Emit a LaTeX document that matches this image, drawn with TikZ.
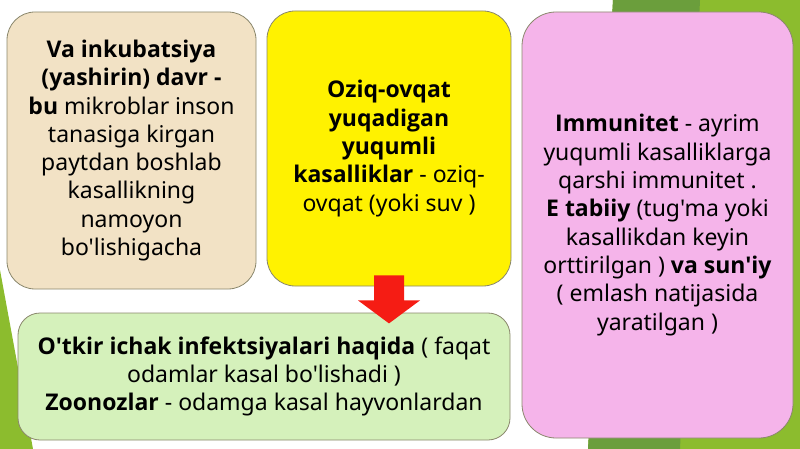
\documentclass[tikz,border=0pt]{standalone}
\usepackage{fontspec}
\setmainfont{Noto Sans}[Ligatures=TeXOff,BoldFont={Open Sans Bold}]
\usetikzlibrary{calc}
\definecolor{tanfill}{HTML}{F2E2C5}
\definecolor{pinkfill}{HTML}{F5B4EA}
\definecolor{mintfill}{HTML}{D5F1BB}
\definecolor{limegreen}{HTML}{8CBC2E}
\definecolor{darkgreen}{HTML}{6B9E3C}
\definecolor{arrowred}{HTML}{F51C14}
\definecolor{boxline}{HTML}{8A876C}
\begin{document}
\begin{tikzpicture}[x=1pt,y=-1pt,
    box/.style={draw=boxline,line width=0.8pt,rounded corners=28pt,align=center,inner sep=0pt,
      font=\fontsize{23}{28.3}\selectfont}]
  \useasboundingbox (0,0) rectangle (800,449);
  % background facets
  \fill[limegreen] (613,0) -- (800,0) -- (800,449) -- (588,449) -- cycle;
  \fill[darkgreen] (613,0) -- (700,0) -- (680,449) -- (588,449) -- cycle;
  \fill[limegreen] (0,270) -- (33,449) -- (0,449) -- cycle;
  % boxes
  \node[box,fill=tanfill,minimum width=249pt,minimum height=277pt] (incub) at (131.5,150.5)
    {\textbf{Va inkubatsiya}\\ \textbf{(yashirin) davr -}\\ \textbf{bu} mikroblar inson\\ tanasiga kirgan\\
     paytdan boshlab\\ kasallikning\\ namoyon\\ bo'lishigacha};
  \node[box,fill=yellow,minimum width=244pt,minimum height=275pt] (food) at (389,148.5)
    {\textbf{Oziq-ovqat}\\ \textbf{yuqadigan}\\ \textbf{yuqumli}\\ \textbf{kasalliklar} - oziq-\\ ovqat (yoki suv )};
  \node[box,fill=pinkfill,minimum width=271pt,minimum height=426pt,rounded corners=34pt] (immun) at (657.5,225)
    {\textbf{Immunitet} - ayrim\\ yuqumli kasalliklarga\\ qarshi immunitet .\\ \textbf{E tabiiy} (tug'ma yoki\\
     kasallikdan keyin\\ orttirilgan ) \textbf{va sun'iy}\\ ( emlash natijasida\\ yaratilgan )};
  \node[box,fill=mintfill,minimum width=492pt,minimum height=127pt,rounded corners=22pt] (acute) at (264,376.5)
    {\textbf{O'tkir ichak infektsiyalari haqida} ( faqat\\ odamlar kasal bo'lishadi )\\
     \textbf{Zoonozlar} - odamga kasal hayvonlardan};
  % block arrow
  \fill[arrowred] ($(food.south)+(-15,-11)$) -- ($(food.south)+(15,-11)$) -- ($(food.south)+(15,14)$)
    -- ($(food.south)+(31,14)$) -- ($(food.south)+(0,37)$) -- ($(food.south)+(-31,14)$)
    -- ($(food.south)+(-15,14)$) -- cycle;
\end{tikzpicture}
\end{document}
